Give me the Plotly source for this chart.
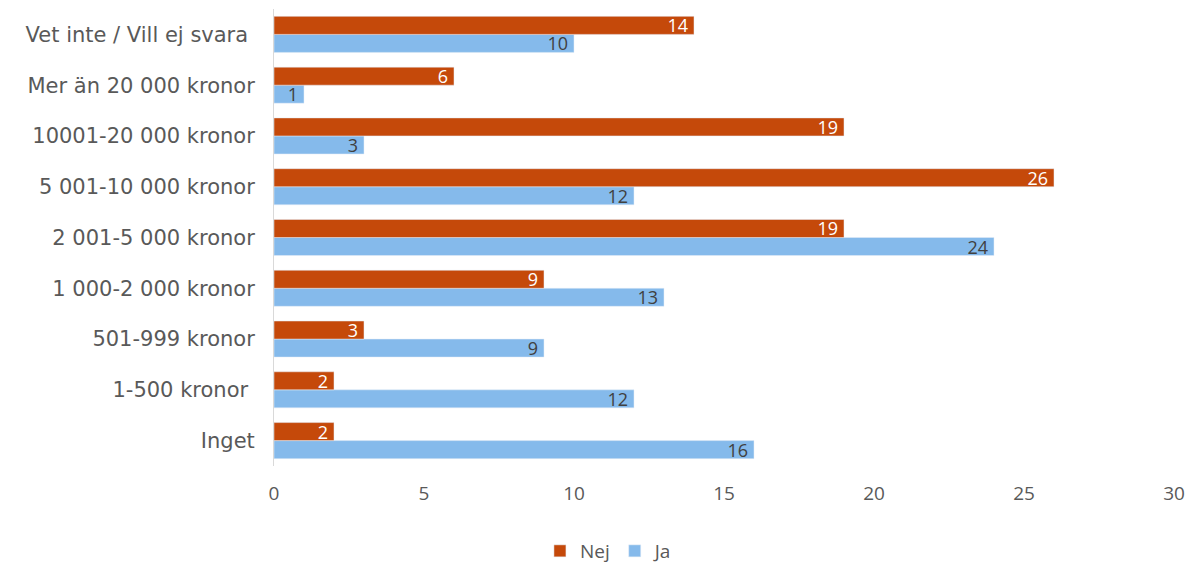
import plotly.graph_objects as go

categories = ["Inget", "1-500 kronor ", "501-999 kronor", "1 000-2 000 kronor",
              "2 001-5 000 kronor", "5 001-10 000 kronor", "10001-20 000 kronor",
              "Mer än 20 000 kronor", "Vet inte / Vill ej svara "]
nej = [2, 2, 3, 9, 19, 26, 19, 6, 14]
ja = [16, 12, 9, 13, 24, 12, 3, 1, 10]
x_ticks = [0, 5, 10, 15, 20, 25, 30]

FONT = "Open Sans"
LABEL_FONT = "DejaVu Sans"
fig = go.Figure()
fig.add_trace(go.Bar(
    y=categories, x=ja, name="Ja", orientation="h",
    marker=dict(color="#85BAEB"),
    text=ja, texttemplate="%{x}\u2009", textposition="inside", insidetextanchor="end",
    constraintext="none",
    textangle=0, insidetextfont=dict(color="#404040", size=18, family=FONT),
    legendrank=2,
))
fig.add_trace(go.Bar(
    y=categories, x=nej, name="Nej", orientation="h",
    marker=dict(color="#C5490A"),
    text=nej, texttemplate="%{x}\u2009", textposition="inside", insidetextanchor="end",
    constraintext="none",
    textangle=0, insidetextfont=dict(color="white", size=18, family=FONT),
    legendrank=1,
))
fig.update_layout(
    width=1194, height=570,
    barmode="group", bargap=0.29, bargroupgap=0,
    plot_bgcolor="white", paper_bgcolor="white",
    margin=dict(l=274, r=20, t=9, b=104),
    font=dict(family=FONT, color="#595959"),
    showlegend=True,
    legend=dict(orientation="h", xref="container", x=0.51, xanchor="center",
                yref="container", y=0.0, yanchor="bottom",
                font=dict(size=19, color="#595959"), itemwidth=30,
                traceorder="normal"),
    xaxis=dict(range=[0, 30], tickvals=x_ticks, showgrid=False, zeroline=False,
               showline=False, tickfont=dict(size=19, color="#595959"),
               ticklabelstandoff=14),
    yaxis=dict(showgrid=False, showline=True, linecolor="#D9D9D9", linewidth=1,
               tickfont=dict(size=21, color="#595959", family=LABEL_FONT),
               ticklabelstandoff=14),
)
fig.write_html("out.html")
